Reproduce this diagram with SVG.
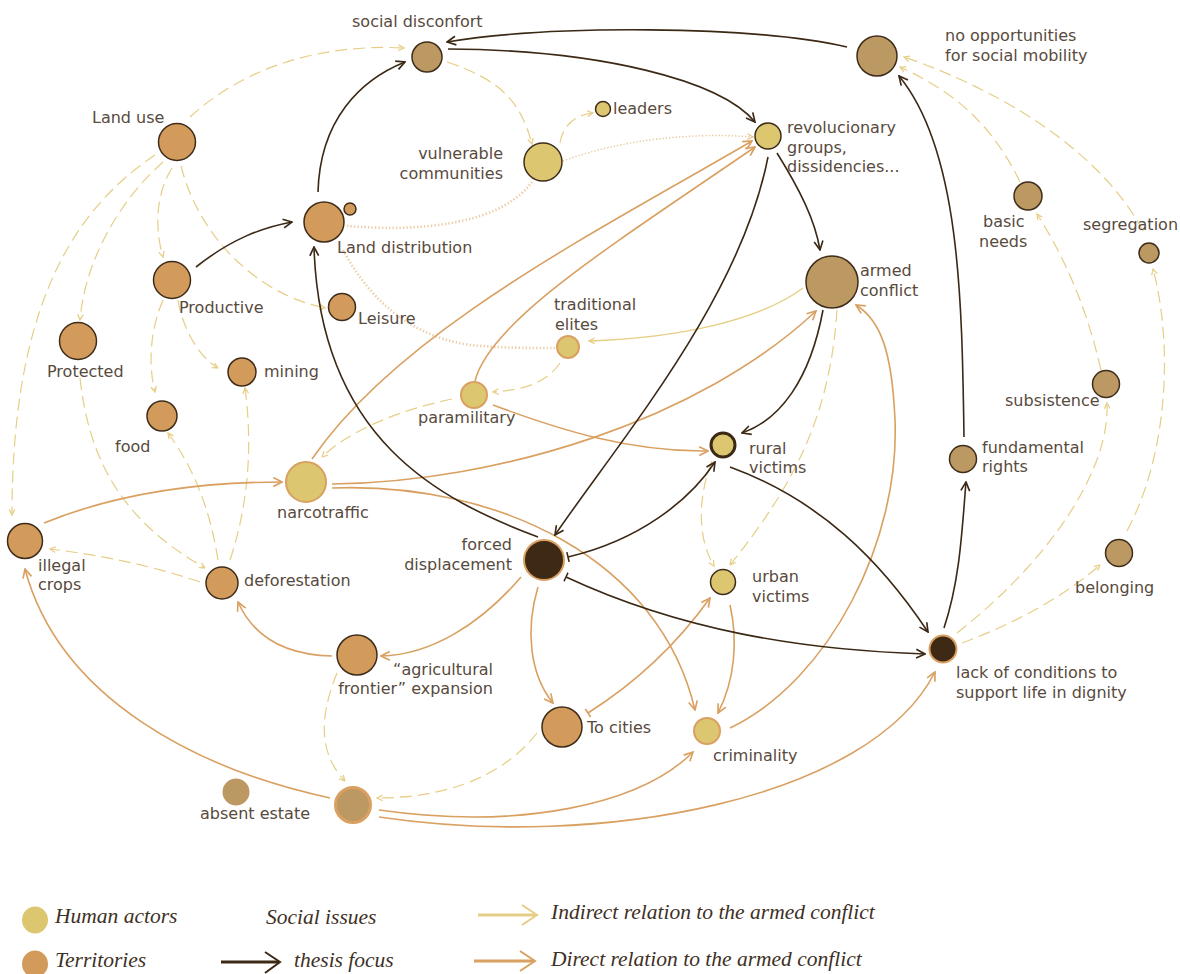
<svg xmlns="http://www.w3.org/2000/svg" width="1180" height="974" viewBox="0 0 1180 974">
  <style>
    .lbl { font-family: "DejaVu Sans", "Liberation Sans", sans-serif; font-size: 16px; fill: #584a3d; }
    .end { text-anchor: end; }
    .leg { font-family: "Liberation Serif", serif; font-style: italic; font-size: 21.5px; fill: #3e3024; }
    .terr { fill: #D29A5B; stroke: #3e2c1a; stroke-width: 1.5; }
    .soc { fill: #BC9963; stroke: #3e2c1a; stroke-width: 1.5; }
    .hum { fill: #DCC670; stroke: #3e2c1a; stroke-width: 1.5; }
    .humO { fill: #DCC670; stroke: #D9A061; stroke-width: 2; }
    .focus { fill: #3E2A14; stroke: #D9A061; stroke-width: 2; }
    .c { fill: none; }
    .d { stroke: #3B2815; stroke-width: 1.6; marker-end: url(#arrD); }
    .o { stroke: #D9A061; stroke-width: 1.6; marker-end: url(#arrO); }
    .y { stroke: #E6CE86; stroke-width: 1.2; stroke-dasharray: 12 6; marker-end: url(#arrY); }
    .ys { stroke: #E6CE86; stroke-width: 1.4; marker-end: url(#arrY); }
    .p { stroke: #EDCBA4; stroke-width: 2.6; stroke-dasharray: 1.3 2.2; }
  </style>
  <defs>
    <marker id="arrD" viewBox="0 0 10 10" refX="9" refY="5" markerWidth="11" markerHeight="11" markerUnits="userSpaceOnUse" orient="auto">
      <path d="M1,1 L9,5 L1,9" fill="none" stroke="#3B2815" stroke-width="1.5"/>
    </marker>
    <marker id="arrO" viewBox="0 0 10 10" refX="9" refY="5" markerWidth="11" markerHeight="11" markerUnits="userSpaceOnUse" orient="auto">
      <path d="M1,1 L9,5 L1,9" fill="none" stroke="#D9A061" stroke-width="1.5"/>
    </marker>
    <marker id="arrY" viewBox="0 0 10 10" refX="9" refY="5" markerWidth="7" markerHeight="7" markerUnits="userSpaceOnUse" orient="auto">
      <path d="M1,1 L9,5 L1,9" fill="none" stroke="#E6CE86" stroke-width="1.8"/>
    </marker>
    <marker id="arrP" viewBox="0 0 10 10" refX="9" refY="5" markerWidth="7" markerHeight="7" markerUnits="userSpaceOnUse" orient="auto">
      <path d="M1,1 L9,5 L1,9" fill="none" stroke="#E9C595" stroke-width="1.8"/>
    </marker>
    <marker id="teeD" viewBox="0 0 4 10" refX="2" refY="5" markerWidth="4" markerHeight="10" markerUnits="userSpaceOnUse" orient="auto">
      <path d="M2,0 V10" stroke="#3B2815" stroke-width="1.6"/>
    </marker>
    <marker id="teeO" viewBox="0 0 4 10" refX="2" refY="5" markerWidth="4" markerHeight="10" markerUnits="userSpaceOnUse" orient="auto">
      <path d="M2,0 V10" stroke="#D9A061" stroke-width="1.6"/>
    </marker>
  </defs>

  <rect width="1180" height="974" fill="#ffffff"/>

  <g id="connectors" class="c">
    <!-- indirect relations (dashed) -->
    <path class="y" d="M190,117 C250,62 330,44 404,48"/>
    <path class="y" d="M155,155 C65,215 12,320 12,515"/>
    <path class="y" d="M163,162 C120,200 85,260 80,320"/>
    <path class="y" d="M172,168 C155,195 155,230 163,257"/>
    <path class="y" d="M181,166 C200,240 260,295 325,308"/>
    <path class="y" d="M163,300 C150,330 148,365 155,392"/>
    <path class="y" d="M178,300 C183,330 200,358 218,368"/>
    <path class="y" d="M80,378 C90,470 130,525 205,568"/>
    <path class="y" d="M218,560 C210,510 195,470 168,433"/>
    <path class="y" d="M230,560 C250,500 252,440 245,388"/>
    <path class="y" d="M200,582 C150,565 100,555 50,549"/>
    <path class="y" d="M447,62 C500,80 520,100 532,144"/>
    <path class="y" d="M560,143 C563,125 575,115 593,113"/>
    <path class="ys" d="M803,288 C760,320 680,338 589,341"/>
    <path class="y" d="M560,363 C545,385 520,390 493,392"/>
    <path class="y" d="M452,399 C400,410 350,430 322,457"/>
    <path class="y" d="M837,310 C830,420 790,490 730,565"/>
    <path class="y" d="M712,461 C700,490 695,535 714,566"/>
    <path class="y" d="M337,673 C318,720 320,755 345,781"/>
    <path class="y" d="M537,733 C500,780 440,798 377,798"/>
    <path class="y" d="M962,643 C1010,625 1060,600 1100,565"/>
    <path class="y" d="M957,633 C1050,560 1110,470 1107,403"/>
    <path class="y" d="M1101,370 C1085,300 1060,250 1037,214"/>
    <path class="y" d="M1127,531 C1170,450 1172,340 1153,269"/>
    <path class="y" d="M1020,182 C990,120 950,90 900,67"/>
    <path class="y" d="M1143,231 C1100,150 1000,90 904,57"/>

    <!-- dotted links -->
    <path class="p" d="M347,226 C420,232 500,225 532,182"/>
    <path class="p" d="M343,250 C370,300 410,336 470,345 C500,348 530,348 555,348"/>
    <path class="c" d="M563,161 C620,140 690,132 753,137" stroke="#E9C595" stroke-width="1.4" stroke-dasharray="1.3 2" marker-end="url(#arrP)"/>

    <!-- direct relations -->
    <path class="o" d="M44,523 C120,492 200,482 282,482"/>
    <path class="o" d="M312,459 C400,330 600,230 752,141"/>
    <path class="o" d="M475,381 C490,320 620,240 755,147"/>
    <path class="o" d="M332,484 C500,482 700,420 816,311"/>
    <path class="o" d="M332,488 C500,482 660,560 695,710"/>
    <path class="o" d="M493,405 C560,430 630,452 708,451"/>
    <path class="o" d="M730,728 C830,680 900,540 895,420 C892,350 880,320 856,305"/>
    <path class="o" d="M521,577 C480,625 430,655 381,656"/>
    <path class="o" d="M332,656 C290,655 255,640 238,602"/>
    <path class="o" d="M538,587 C525,630 530,675 553,703"/>
    <path class="o" d="M730,605 C738,640 735,680 718,713"/>
    <path class="o" d="M588,713 C640,680 680,640 710,598" marker-start="url(#teeO)"/>
    <path class="o" d="M379,810 C520,830 640,805 693,752"/>
    <path class="o" d="M379,817 C600,850 870,800 935,672"/>
    <path class="o" d="M330,798 C200,770 60,700 25,569"/>

    <!-- thesis focus -->
    <path class="d" d="M196,267 C230,240 260,228 292,222"/>
    <path class="d" d="M318,192 C320,120 360,80 405,62"/>
    <path class="d" d="M538,537 C440,500 320,440 314,247"/>
    <path class="d" d="M448,49 C600,50 720,80 755,122"/>
    <path class="d" d="M847,47 C750,25 550,25 447,42"/>
    <path class="d" d="M777,153 C800,190 815,220 820,250"/>
    <path class="d" d="M768,157 C740,300 620,440 555,535"/>
    <path class="d" d="M823,310 C810,380 780,420 742,433"/>
    <path class="d" d="M568,557 C640,540 690,500 715,462" marker-start="url(#teeD)"/>
    <path class="d" d="M566,577 C680,630 800,650 925,654" marker-start="url(#teeD)"/>
    <path class="d" d="M730,467 C820,500 880,560 928,632"/>
    <path class="d" d="M944,628 C960,580 962,530 966,482"/>
    <path class="d" d="M964,437 C962,300 960,150 899,76"/>
  </g>

  <g id="social-disconfort"><circle class="soc" cx="427" cy="57" r="15"/><text class="lbl" x="352" y="27">social disconfort</text></g>
  <g id="no-opportunities"><circle class="soc" cx="877" cy="56" r="20"/><text class="lbl" x="945" y="41">no opportunities</text><text class="lbl" x="945" y="61">for social mobility</text></g>
  <g id="land-use"><circle class="terr" cx="177" cy="142" r="18.5"/><text class="lbl" x="92" y="123">Land use</text></g>
  <g id="vulnerable-communities"><circle class="hum" cx="543" cy="162" r="19"/><text class="lbl end" x="503" y="159">vulnerable</text><text class="lbl end" x="503" y="179">communities</text></g>
  <g id="leaders"><circle class="hum" cx="603" cy="109" r="7.5"/><text class="lbl" x="613" y="114">leaders</text></g>
  <g id="revolucionary-groups"><circle class="hum" cx="768" cy="136" r="13"/><text class="lbl" x="787" y="133">revolucionary</text><text class="lbl" x="787" y="153">groups,</text><text class="lbl" x="787" y="172">dissidencies...</text></g>
  <g id="land-distribution"><circle class="terr" cx="324" cy="222" r="20"/><circle class="terr" cx="350" cy="209" r="6"/><text class="lbl" x="337" y="253">Land distribution</text></g>
  <g id="productive"><circle class="terr" cx="172" cy="280" r="18.5"/><text class="lbl" x="179" y="313">Productive</text></g>
  <g id="leisure"><circle class="terr" cx="342" cy="307" r="13.5"/><text class="lbl" x="358" y="324">Leisure</text></g>
  <g id="basic-needs"><circle class="soc" cx="1028" cy="196" r="14"/><text class="lbl" x="983" y="227">basic</text><text class="lbl" x="979" y="247">needs</text></g>
  <g id="segregation"><circle class="soc" cx="1149" cy="253" r="10"/><text class="lbl" x="1083" y="230">segregation</text></g>
  <g id="armed-conflict"><circle class="soc" cx="832" cy="282" r="26"/><text class="lbl" x="860" y="276">armed</text><text class="lbl" x="860" y="296">conflict</text></g>
  <g id="protected"><circle class="terr" cx="78" cy="341" r="18.5"/><text class="lbl" x="47" y="377">Protected</text></g>
  <g id="mining"><circle class="terr" cx="242" cy="372" r="14"/><text class="lbl" x="264" y="377">mining</text></g>
  <g id="traditional-elites"><circle class="humO" cx="568" cy="347" r="11"/><text class="lbl" x="554" y="310">traditional</text><text class="lbl" x="555" y="330">elites</text></g>
  <g id="food"><circle class="terr" cx="162" cy="416" r="15"/><text class="lbl" x="115" y="452">food</text></g>
  <g id="paramilitary"><circle class="humO" cx="474" cy="395" r="13"/><text class="lbl" x="418" y="423">paramilitary</text></g>
  <g id="rural-victims"><circle cx="723" cy="445" r="12" fill="#DCC670" stroke="#3B2815" stroke-width="3"/><text class="lbl" x="749" y="454">rural</text><text class="lbl" x="749" y="473">victims</text></g>
  <g id="subsistence"><circle class="soc" cx="1106" cy="384" r="13.5"/><text class="lbl" x="1005" y="406">subsistence</text></g>
  <g id="fundamental-rights"><circle class="soc" cx="963" cy="459" r="13.5"/><text class="lbl" x="982" y="453">fundamental</text><text class="lbl" x="982" y="472">rights</text></g>
  <g id="narcotraffic"><circle class="humO" cx="306" cy="482" r="20"/><text class="lbl" x="277" y="518">narcotraffic</text></g>
  <g id="illegal-crops"><circle class="terr" cx="25" cy="541" r="17.5"/><text class="lbl" x="38" y="571">illegal</text><text class="lbl" x="38" y="590">crops</text></g>
  <g id="deforestation"><circle class="terr" cx="222" cy="583" r="16"/><text class="lbl" x="244" y="586">deforestation</text></g>
  <g id="forced-displacement"><circle class="focus" cx="544" cy="560" r="20"/><text class="lbl end" x="512" y="550">forced</text><text class="lbl end" x="512" y="570">displacement</text></g>
  <g id="urban-victims"><circle class="hum" cx="723" cy="582" r="12.5"/><text class="lbl" x="752" y="582">urban</text><text class="lbl" x="752" y="602">victims</text></g>
  <g id="belonging"><circle class="soc" cx="1119" cy="553" r="13.5"/><text class="lbl" x="1075" y="593">belonging</text></g>
  <g id="lack-of-conditions"><circle class="focus" cx="943" cy="649" r="13.5"/><text class="lbl" x="956" y="678">lack of conditions to</text><text class="lbl" x="956" y="698">support life in dignity</text></g>
  <g id="agricultural-frontier"><circle class="terr" cx="357" cy="655" r="20"/><text class="lbl end" x="493" y="675">“agricultural</text><text class="lbl end" x="493" y="694">frontier” expansion</text></g>
  <g id="to-cities"><circle class="terr" cx="562" cy="727" r="20"/><text class="lbl" x="587" y="733">To cities</text></g>
  <g id="criminality"><circle class="humO" cx="707" cy="731" r="13"/><text class="lbl" x="713" y="761">criminality</text></g>
  <g id="absent-estate"><circle cx="236" cy="792" r="13.5" fill="#BC9963"/><text class="lbl" x="200" y="819">absent estate</text></g>
  <g id="estate-hub"><circle cx="353" cy="805" r="17.5" fill="#BC9963" stroke="#D9A061" stroke-width="3"/></g>

  <g id="legend">
    <ellipse cx="35" cy="920" rx="13" ry="13.5" fill="#DCC670"/>
    <text class="leg" x="55" y="923">Human actors</text>
    <ellipse cx="35" cy="964" rx="13" ry="13.5" fill="#D29A5B"/>
    <text class="leg" x="55" y="967">Territories</text>
    <text class="leg" x="266" y="924">Social issues</text>
    <line x1="221" y1="962" x2="279" y2="962" stroke="#3B2815" stroke-width="3"/>
    <path d="M265,952 L280,962 L265,973" fill="none" stroke="#3B2815" stroke-width="2"/>
    <text class="leg" x="294" y="967">thesis focus</text>
    <line x1="478" y1="915" x2="535" y2="915" stroke="#E6CE86" stroke-width="3"/>
    <path d="M522,905 L537,915 L522,925" fill="none" stroke="#E6CE86" stroke-width="2"/>
    <text class="leg" x="551" y="919">Indirect relation to the armed conflict</text>
    <line x1="474" y1="961" x2="533" y2="961" stroke="#D9A061" stroke-width="3"/>
    <path d="M520,951 L535,961 L520,971" fill="none" stroke="#D9A061" stroke-width="2"/>
    <text class="leg" x="551" y="966">Direct relation to the armed conflict</text>
  </g>
</svg>
